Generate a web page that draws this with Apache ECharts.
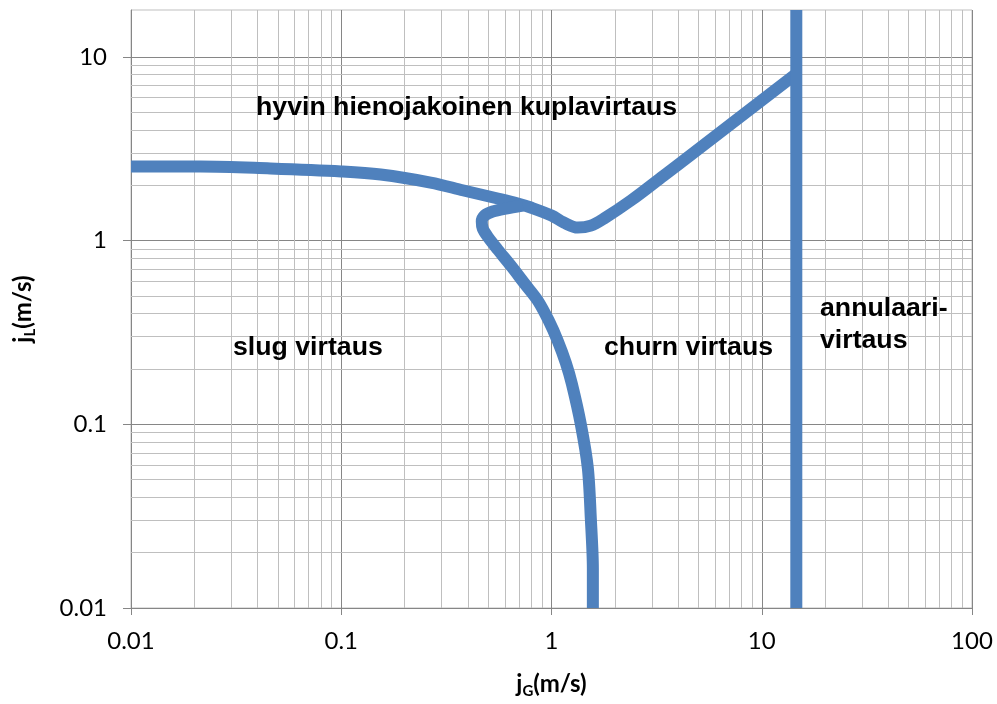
<!DOCTYPE html>
<html>
<head>
<meta charset="utf-8">
<script src="https://cdn.jsdelivr.net/npm/echarts@6/dist/echarts.min.js"></script>
<style>
html,body{margin:0;padding:0;background:#fff;}
#chart{width:997px;height:704px;}
</style>
</head>
<body>
<div id="chart"></div>
<script>
// ---- data ----
const xTickValues = [0.01, 0.1, 1, 10, 100];
const xTickLabels = ['0.01', '0.1', '1', '10', '100'];
const yTickValues = [0.01, 0.1, 1, 10];
const yTickLabels = ['0.01', '0.1', '1', '10'];
const minorSteps = [2, 3, 4, 5, 6, 7, 8, 9];
const xDecades = [0.01, 0.1, 1, 10];
const yDecades = [0.01, 0.1, 1];

// boundary: bubbly / slug + churn (upper curve)
const upperCurve = [
  [0.01, 2.53], [0.0214, 2.53], [0.046, 2.47], [0.1, 2.38], [0.154, 2.29],
  [0.266, 2.07], [0.382, 1.874], [0.555, 1.695], [0.691, 1.592], [0.797, 1.514],
  [1.0, 1.369], [1.144, 1.254], [1.334, 1.177], [1.538, 1.207], [1.775, 1.318],
  [2.386, 1.653], [3.426, 2.263], [4.13, 2.665], [14.6, 8.1]
];
// boundary: slug / churn (loop branch going down)
const loopCurve = [
  [0.730, 1.552], [0.606, 1.495], [0.525, 1.439], [0.481, 1.369], [0.466, 1.27],
  [0.471, 1.163], [0.497, 1.051], [0.555, 0.893], [0.64, 0.731], [0.746, 0.582],
  [0.861, 0.471], [0.971, 0.366], [1.07, 0.285], [1.17, 0.216], [1.25, 0.166],
  [1.379, 0.1], [1.489, 0.0578], [1.538, 0.0308], [1.573, 0.0164], [1.573, 0.01]
];
// boundary: churn / annular
const annularBoundary = [[14.6, 0.01], [14.6, 18]];

const xMin = 0.01, xMax = 100, yMin = 0.01, yMax = 18;

// ---- minor grid lines (log 2..9 per decade) ----
const minorLines = [];
xDecades.forEach(d => minorSteps.forEach(k => minorLines.push({ xAxis: d * k })));
yDecades.forEach(d => minorSteps.forEach(k => { if (d * k < yMax) minorLines.push({ yAxis: d * k }); }));

const blue = '#4F81BD';
const major = '#868686';
const minor = '#BFBFBF';
const labelFont = 'Lato';

function lab(values, labels) {
  return v => {
    const e = Math.round(Math.log10(v));
    for (let i = 0; i < values.length; i++) {
      if (Math.round(Math.log10(values[i])) === e && Math.abs(Math.log10(v) - e) < 1e-6) return labels[i];
    }
    return '';
  };
}

const titleRich = {
  n: { fontFamily: labelFont, fontWeight: 'bold', fontSize: 24, color: '#000' },
  s: { fontFamily: labelFont, fontWeight: 'bold', fontSize: 15, color: '#000', verticalAlign: 'bottom', padding: [0, 0, -3, 0] }
};

const chart = echarts.init(document.getElementById('chart'), null, { renderer: 'canvas' });
const annoFont = 'bold 26.7px "Liberation Sans", Arial, sans-serif';

chart.setOption({
  animation: false,
  backgroundColor: '#fff',
  grid: { left: 131, right: 25, top: 10, bottom: 96, show: true, borderColor: minor, borderWidth: 1 },
  xAxis: {
    type: 'log', logBase: 10, min: xMin, max: xMax,
    name: '{n|j}{s|G}{n|(m/s)}', nameLocation: 'middle', nameGap: 64,
    nameTextStyle: { rich: titleRich },
    axisLine: { show: true, lineStyle: { color: major, width: 1 } },
    axisTick: { show: true, length: 7, lineStyle: { color: major }, customValues: xTickValues },
    axisLabel: { customValues: xTickValues, formatter: lab(xTickValues, xTickLabels), fontFamily: labelFont, fontSize: 24, color: '#000', margin: 21 },
    splitLine: { show: true, lineStyle: { color: major, width: 1 } },
    minorTick: { show: false }, minorSplitLine: { show: false }
  },
  yAxis: {
    type: 'log', logBase: 10, min: yMin, max: yMax,
    name: '{n|j}{s|L}{n|(m/s)}', nameLocation: 'middle', nameRotate: 90, nameGap: 96,
    nameTextStyle: { rich: titleRich },
    axisLine: { show: true, lineStyle: { color: major, width: 1 } },
    axisTick: { show: true, length: 8, lineStyle: { color: major }, customValues: yTickValues },
    axisLabel: { customValues: yTickValues, formatter: lab(yTickValues, yTickLabels), fontFamily: labelFont, fontSize: 24, color: '#000', margin: 24 },
    splitLine: { show: true, lineStyle: { color: major, width: 1 } },
    minorTick: { show: false }, minorSplitLine: { show: false }
  },
  series: [
    {
      type: 'line', name: 'minor grid', data: [], z: 1, silent: true,
      markLine: {
        silent: true, z: 1, symbol: 'none', animation: false,
        label: { show: false },
        emphasis: { disabled: true },
        lineStyle: { color: minor, width: 1, type: 'solid' },
        data: minorLines
      }
    },
    {
      type: 'line', name: 'upper', data: upperCurve, smooth: 0.35, showSymbol: false, symbol: 'none', z: 5,
      lineStyle: { color: blue, width: 12, cap: 'butt', join: 'round' }
    },
    {
      type: 'line', name: 'loop', data: loopCurve, smooth: 0.3, showSymbol: false, symbol: 'none', z: 5,
      lineStyle: { color: blue, width: 12, cap: 'butt', join: 'round' }
    },
    {
      type: 'line', name: 'annular', data: annularBoundary, showSymbol: false, symbol: 'none', z: 5,
      lineStyle: { color: blue, width: 12, cap: 'butt' }
    }
  ],
  graphic: [
    { type: 'text', x: 256, y: 108, z: 20, style: { text: 'hyvin hienojakoinen kuplavirtaus', font: annoFont, fill: '#000', textAlign: 'left', textVerticalAlign: 'middle' } },
    { type: 'text', x: 233, y: 348, z: 20, style: { text: 'slug virtaus', font: annoFont, fill: '#000', textAlign: 'left', textVerticalAlign: 'middle' } },
    { type: 'text', x: 604, y: 348, z: 20, style: { text: 'churn virtaus', font: annoFont, fill: '#000', textAlign: 'left', textVerticalAlign: 'middle' } },
    { type: 'text', x: 820, y: 309, z: 20, style: { text: 'annulaari-', font: annoFont, fill: '#000', textAlign: 'left', textVerticalAlign: 'middle' } },
    { type: 'text', x: 820, y: 341, z: 20, style: { text: 'virtaus', font: annoFont, fill: '#000', textAlign: 'left', textVerticalAlign: 'middle' } }
  ]
});
</script>
</body>
</html>
